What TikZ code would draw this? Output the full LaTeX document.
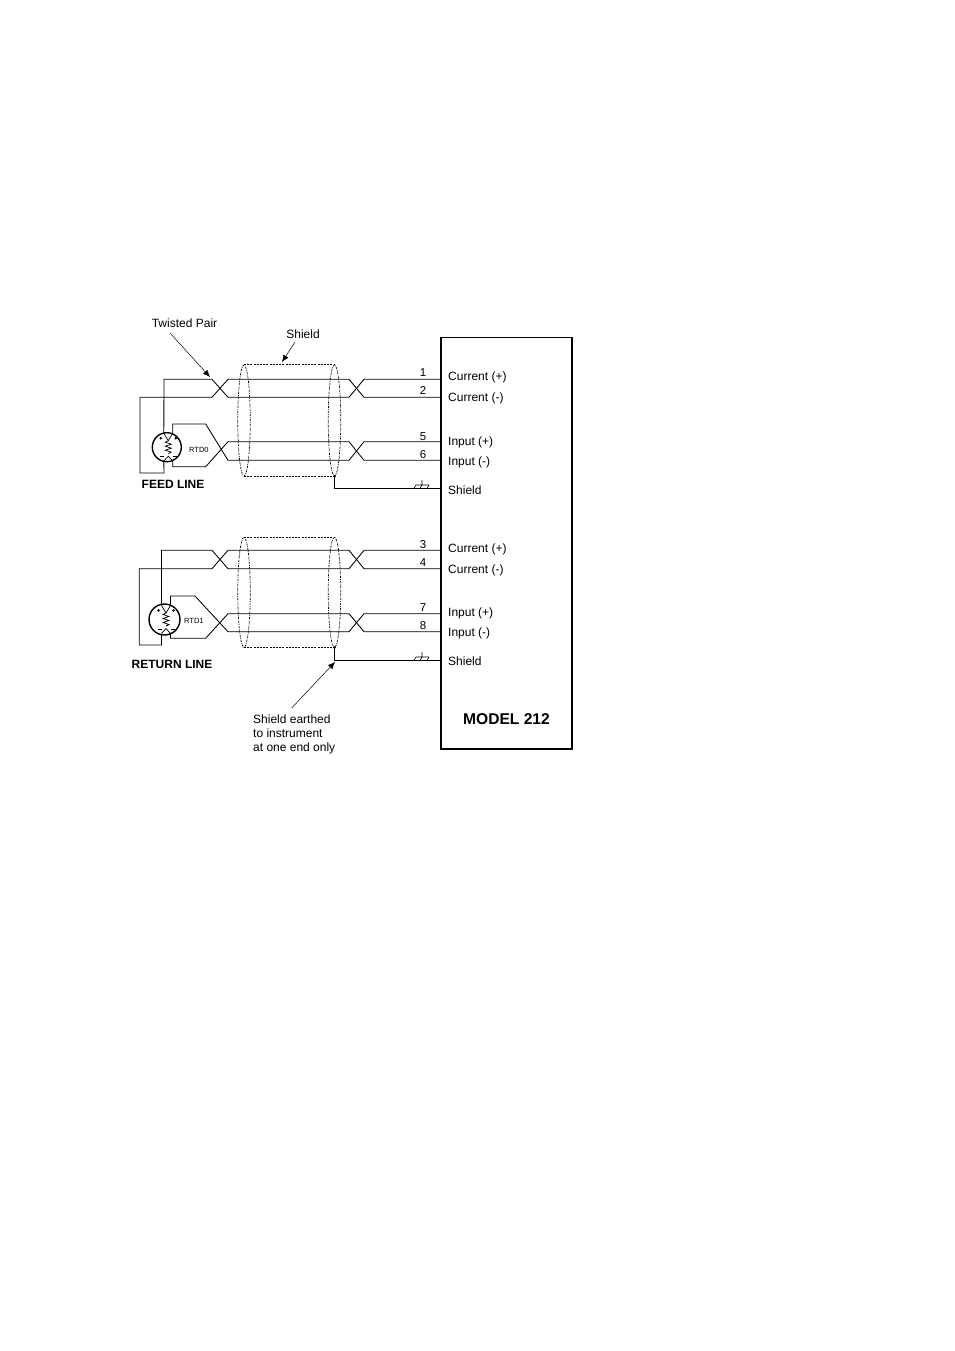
\documentclass[tikz,border=0pt]{standalone}
\usepackage{fontspec}
\setmainfont{Liberation Sans}
\usetikzlibrary{arrows.meta,shapes.geometric}
\tikzset{
	wire/.style={line width=0.85pt},
	shieldline/.style={line width=0.7pt,dash pattern=on 2pt off 1.2pt},
	shieldring/.style={draw,ellipse,line width=0.7pt,dash pattern=on 2pt off 1pt on 0.7pt off 1pt,minimum width=12.5pt,inner sep=0pt},
	leader/.style={line width=0.5pt,-{Latex[length=7pt,width=6pt]}},
	term/.style={font=\fontsize{12}{12}\selectfont,anchor=base west,inner sep=0pt},
	pin/.style={font=\fontsize{11.5}{12}\selectfont,anchor=base,inner sep=0pt},
	note/.style={font=\fontsize{12}{13.7}\selectfont,align=left,anchor=north west,inner sep=0pt},
	heading/.style={font=\fontsize{12}{12}\selectfont\bfseries,anchor=west,inner sep=0pt},
	rtdlabel/.style={font=\fontsize{7.5}{8}\selectfont,anchor=west,inner sep=0pt}
}
% the sensor, a circle with a resistor and four small terminals
\newcommand{\rtdbulb}[4]{
	\node[circle,draw,line width=1.4pt,minimum size=#3,inner sep=0pt] (#4) at (#1,#2) {};
	\draw[line width=0.7pt] ([shift={(1.5,-6.5)}]#4.center) -- ++(-3,1.5) -- ++(6,2) -- ++(-6,2) -- ++(6,2) -- ++(-6,2) -- ++(6,2) -- ++(-3,1.5);
	\draw[line width=0.7pt] ([shift={(-3,-14)}]#4.center) -- ([shift={(1.5,-6.5)}]#4.center) -- ([shift={(6,-14)}]#4.center)
		([shift={(-3,14)}]#4.center) -- ([shift={(1.5,9)}]#4.center) -- ([shift={(6,14)}]#4.center);
	\fill ([shift={(-6,-9)}]#4.center) circle (1.4pt) ([shift={(9,-9)}]#4.center) circle (1.4pt);
	\draw[line width=1pt] ([shift={(-7,9.5)}]#4.center) -- ++(4,0) ([shift={(6,9.5)}]#4.center) -- ++(4,0);
}
% earth mark on the shield lead
\newcommand{\earthmark}[1]{
	\draw[line width=0.6pt] ([shift={(-6,0)}]#1) -- ++(13,0) ([shift={(0,-5)}]#1) -- ++(0,5)
		([shift={(-6,0)}]#1) -- ++(-2,3.5) (#1) -- ++(-2,3.5) ([shift={(7,0)}]#1) -- ++(-2,3.5);
}
\begin{document}
\begin{tikzpicture}[x=1pt,y=-1pt]
	\useasboundingbox (0,0) rectangle (954,1351);

	\node[draw,line width=1.6pt,minimum width=131pt,minimum height=411.5pt,anchor=north west,inner sep=0pt] (model) at (440.4,336.6) {};
	\node[font=\fontsize{15.6}{16}\selectfont\bfseries,inner sep=0pt] (modelname) at (506.5,719.5) {MODEL 212};

	\node[term] (cur1p) at (448,380.7) {Current (+)};
	\node[term] (cur1m) at (448,401.7) {Current (-)};
	\node[term] (inp1p) at (448,445) {Input (+)};
	\node[term] (inp1m) at (448,465) {Input (-)};
	\node[term] (shd1) at (448,494) {Shield};
	\node[term] (cur2p) at (448,552) {Current (+)};
	\node[term] (cur2m) at (448,573) {Current (-)};
	\node[term] (inp2p) at (448,616.7) {Input (+)};
	\node[term] (inp2m) at (448,636.7) {Input (-)};
	\node[term] (shd2) at (448,665) {Shield};

	\node[pin] (pin1) at (423,376.7) {1};
	\node[pin] (pin2) at (423,394) {2};
	\node[pin] (pin5) at (423,440) {5};
	\node[pin] (pin6) at (423,458) {6};
	\node[pin] (pin3) at (423,548) {3};
	\node[pin] (pin4) at (423,566) {4};
	\node[pin] (pin7) at (423,611.5) {7};
	\node[pin] (pin8) at (423,629.5) {8};

	\node[heading] (feed) at (141.5,484.5) {FEED LINE};
	\node[heading] (return) at (131.5,664.5) {RETURN LINE};
	\node[rtdlabel] (rtd0) at (189,450) {RTD0};
	\node[rtdlabel] (rtd1) at (184,621) {RTD1};
	\node[font=\fontsize{12}{12}\selectfont,inner sep=0pt] (twisted) at (184.5,323.5) {Twisted Pair};
	\node[font=\fontsize{12}{12}\selectfont,inner sep=0pt] (shieldname) at (303,334) {Shield};
	\node[note] (earthnote) at (253,715) {Shield earthed\\to instrument\\at one end only};

	% feed line
	\rtdbulb{166.8}{447.2}{29pt}{bulb0}
	\coordinate (f1) at (model.west |- 0,379.3);
	\coordinate (f2) at (model.west |- 0,397.3);
	\coordinate (f5) at (model.west |- 0,441.7);
	\coordinate (f6) at (model.west |- 0,460.3);
	\coordinate (fa) at (164,379.3);
	\coordinate (fb) at (140,397.3);
	\coordinate (fc) at (172.8,424);
	\coordinate (fd) at (172.8,466.7);
	\draw[wire] ([shift={(-3,-14)}]bulb0.center) -- (fa) -- (212,379.3) -- (228,397.3) -- (349,397.3) -- (364,379.3) -- (f1);
	\draw[wire] ([shift={(-3,14)}]bulb0.center) -- (164,473) -- (140,473) -- (fb) -- (212,397.3) -- (228,379.3) -- (349,379.3) -- (364,397.3) -- (f2);
	\draw[wire] ([shift={(6,-14)}]bulb0.center) -- (fc) -- (205.7,424) -- (228,460.3) -- (349,460.3) -- (364,441.7) -- (f5);
	\draw[wire] ([shift={(6,14)}]bulb0.center) -- (fd) -- (205.7,466.7) -- (228,441.7) -- (349,441.7) -- (364,460.3) -- (f6);

	\node[shieldring,minimum height=111pt] (ring0a) at (244,420.5) {};
	\node[shieldring,minimum height=111pt] (ring0b) at (334.5,420.5) {};
	\draw[shieldline] (ring0a.north) -- (ring0b.north);
	\draw[shieldline] (ring0a.south) -- (ring0b.south);
	\fill (ring0b.south) circle (1.5pt);
	\draw[wire] (ring0b.south) |- (model.west |- 0,488.5);
	\earthmark{422,485}

	% return line
	\rtdbulb{164.5}{619.5}{31pt}{bulb1}
	\coordinate (r3) at (model.west |- 0,550.3);
	\coordinate (r4) at (model.west |- 0,568.7);
	\coordinate (r7) at (model.west |- 0,613.7);
	\coordinate (r8) at (model.west |- 0,631.7);
	\coordinate (ra) at (161.5,550.3);
	\coordinate (rb) at (139.3,568.7);
	\coordinate (rc) at (170.5,596);
	\coordinate (rd) at (170.5,638.3);
	\draw[wire] ([shift={(-3,-14)}]bulb1.center) -- (ra) -- (212,550.3) -- (228,568.7) -- (349,568.7) -- (364,550.3) -- (r3);
	\draw[wire] ([shift={(-3,14)}]bulb1.center) -- (161.5,645) -- (139.3,645) -- (rb) -- (212,568.7) -- (228,550.3) -- (349,550.3) -- (364,568.7) -- (r4);
	\draw[wire] ([shift={(6,-14)}]bulb1.center) -- (rc) -- (195,596) -- (228,631.7) -- (349,631.7) -- (364,613.7) -- (r7);
	\draw[wire] ([shift={(6,14)}]bulb1.center) -- (rd) -- (205.7,638.3) -- (228,613.7) -- (349,613.7) -- (364,631.7) -- (r8);

	\node[shieldring,minimum height=110pt] (ring1a) at (244,592.3) {};
	\node[shieldring,minimum height=110pt] (ring1b) at (334.5,592.3) {};
	\draw[shieldline] (ring1a.north) -- (ring1b.north);
	\draw[shieldline] (ring1a.south) -- (ring1b.south);
	\fill (ring1b.south) circle (1.5pt);
	\draw[wire] (ring1b.south) |- (model.west |- 0,660.5);
	\earthmark{422,657}

	% pointers
	\coordinate (twistedtip) at (210,377);
	\coordinate (shieldtip) at (282,362);
	\coordinate (earthtip) at (335,662);
	\draw[leader] (170,333) -- (twistedtip);
	\draw[leader] (295,342) -- (shieldtip);
	\draw[leader] (291.7,708) -- (earthtip);
\end{tikzpicture}
\end{document}
